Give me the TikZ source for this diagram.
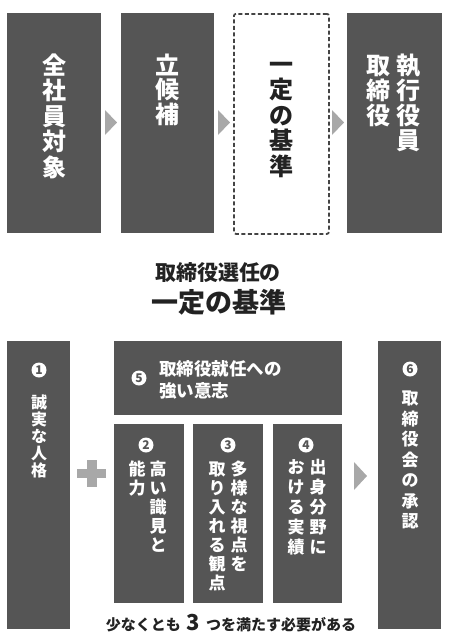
\documentclass[tikz,border=0pt]{standalone}
\usepackage{fontspec}
\setmainfont{Noto Sans CJK JP}
\definecolor{boxgray}{HTML}{555555}
\definecolor{markgray}{HTML}{A8A8A8}
\definecolor{ink}{HTML}{222222}
\definecolor{dashink}{HTML}{444444}
\newcommand\vst{\rule{0pt}{0.88em}}
\tikzset{
  panel/.style={fill=boxgray, draw=none, inner sep=0pt, anchor=north west},
  dashpanel/.style={draw=dashink, line width=1.8pt, dash pattern=on 4pt off 2.5pt, rounded corners=2pt, inner sep=0pt, anchor=north west},
  vcol/.style n args={2}{anchor=north, inner sep=0pt, align=center, text=white, font=\bfseries\fontsize{#1}{#2}\selectfont},
  numdot/.style={circle, fill=white, inner sep=0pt, minimum size=15pt, text=boxgray, font=\bfseries\fontsize{12}{12}\selectfont},
  marker/.style={fill=markgray, draw=none},
  hline/.style n args={2}{anchor=north, inner sep=0pt, text=ink, font=\bfseries\fontsize{#1}{#2}\selectfont},
}
\begin{document}
\begin{tikzpicture}[x=1pt,y=-1pt]
\useasboundingbox (0,0) rectangle (450,641);

% ---------- top row ----------
\node[panel, minimum width=94pt, minimum height=220pt] (t1) at (7,13) {};
\node[panel, minimum width=93pt, minimum height=220pt] (t2) at (121,13) {};
\node[dashpanel, minimum width=95pt, minimum height=220pt] (t3) at (233,13) {};
\node[panel, minimum width=95pt, minimum height=220pt] (t4) at (347,13) {};

\node[vcol={24}{25.5}] (t1txt) at (54,53) {\vst 全\\社\\員\\対\\象};
\node[vcol={24}{24.5}] (t2txt) at (167.5,53) {\vst 立\\候\\補};
\node[vcol={24}{25.5}, text=ink] (t3txt) at (281,52) {\vst 一\\定\\の\\基\\準};
\node[vcol={24}{25}] (t4a) at (408,53) {\vst 執\\行\\役\\員};
\node[vcol={24}{25}] (t4b) at (378,53) {\vst 取\\締\\役};

\fill[marker] (105,110) -- (117,122.5) -- (105,135) -- cycle;
\fill[marker] (218,110) -- (230,122.5) -- (218,135) -- cycle;
\fill[marker] (332,110) -- (344,122.5) -- (332,135) -- cycle;

% ---------- title ----------
\node[hline={21}{21}] (title1) at (218,261.5) {\vst 取締役選任の};
\node[hline={27}{27}] (title2) at (218.5,288.5) {\vst 一定の基準};

% ---------- bottom ----------
\node[panel, minimum width=63pt, minimum height=288pt] (b1) at (7,341) {};
\node[panel, minimum width=228pt, minimum height=74pt] (b5) at (114,341) {};
\node[panel, minimum width=70pt, minimum height=179pt] (b2) at (114,424) {};
\node[panel, minimum width=70pt, minimum height=179pt] (b3) at (193,424) {};
\node[panel, minimum width=69pt, minimum height=179pt] (b4) at (273,424) {};
\node[panel, minimum width=63pt, minimum height=288pt] (b6) at (378,341) {};

\node[numdot] (n1) at (39,370) {1};
\node[vcol={16}{17}] (b1txt) at (39,394) {\vst 誠\\実\\な\\人\\格};

\node[numdot] (n5) at (139,378) {5};
\node[anchor=north west, inner sep=0pt, align=left, text=white, font=\bfseries\fontsize{17.5}{22}\selectfont] (b5txt) at (159,359.5) {\vst 取締役就任への\\強い意志};

\node[numdot] (n2) at (146,445) {2};
\node[vcol={17}{19}] (b2a) at (158,460.5) {\vst 高\\い\\識\\見\\と};
\node[vcol={17}{19}] (b2b) at (137,460.5) {\vst 能\\力};

\node[numdot] (n3) at (228,445) {3};
\node[vcol={17}{19}] (b3a) at (239,460.5) {\vst 多\\様\\な\\視\\点\\を};
\node[vcol={17}{19}] (b3b) at (217,460.5) {\vst 取\\り\\入\\れ\\る\\観\\点};

\node[numdot] (n4) at (306,445) {4};
\node[vcol={17}{20}] (b4a) at (318,458.5) {\vst 出\\身\\分\\野\\に};
\node[vcol={17}{20}] (b4b) at (296,458.5) {\vst お\\け\\る\\実\\績};

\node[numdot] (n6) at (410,369) {6};
\node[vcol={17}{20.5}] (b6txt) at (410,389.5) {\vst 取\\締\\役\\会\\の\\承\\認};

% plus sign
\fill[marker] (77,469) rectangle (106,478);
\fill[marker] (87,460) rectangle (97,487);
% arrow marker
\fill[marker] (354,462) -- (367,476) -- (354,490) -- cycle;

% note
\node[hline={15}{15}] (note) at (231,614.5) {\vst 少なくとも\hspace{6pt}{\fontsize{22}{22}\selectfont 3}\hspace{6pt}つを満たす必要がある};
\end{tikzpicture}
\end{document}
